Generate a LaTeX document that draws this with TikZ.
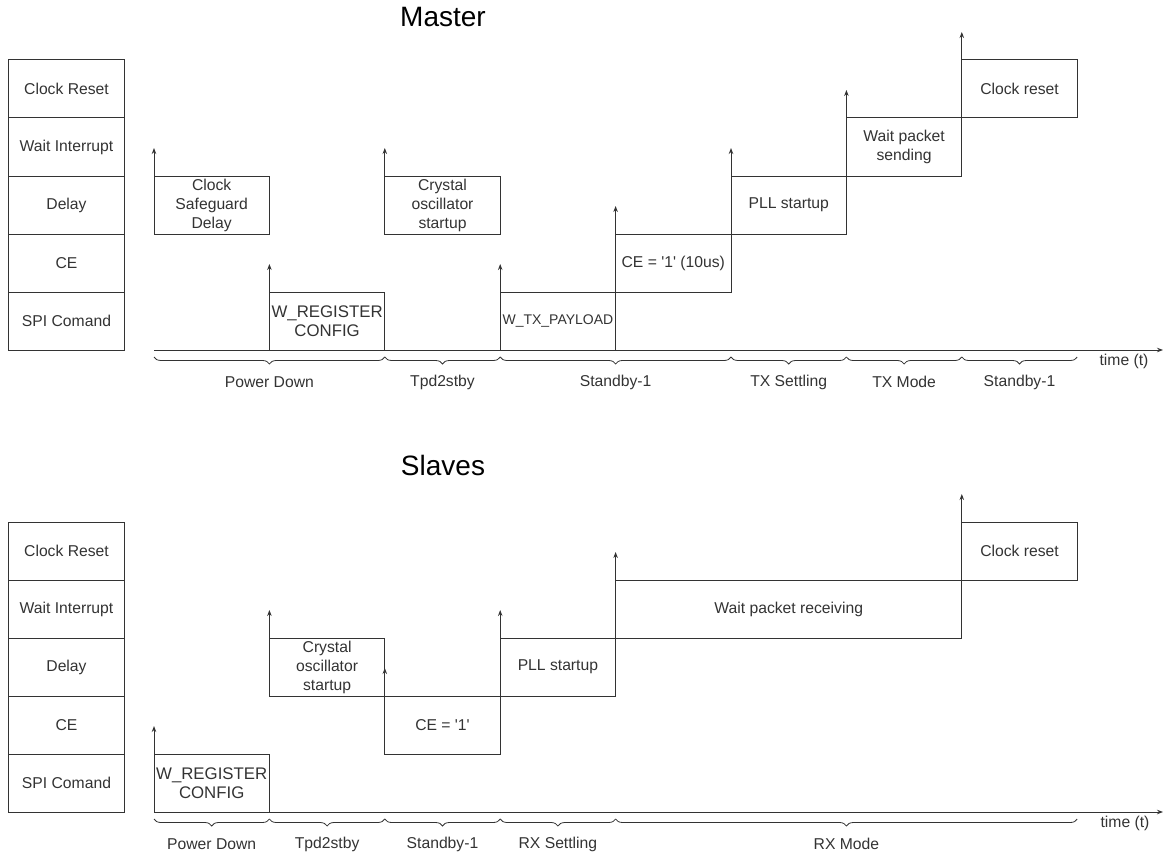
\documentclass[tikz,border=0pt]{standalone}
\usepackage{fontspec}
\setmainfont{Liberation Sans}
\usetikzlibrary{positioning,arrows.meta,decorations.pathreplacing}
\definecolor{inkgray}{HTML}{333333}
\newcommand{\sq}{\textquotesingle}

\begin{document}
\begin{tikzpicture}[
  x=1pt, y=-1pt,
  font=\fontsize{15.7}{19}\selectfont, text=inkgray,
  >={Stealth[length=6pt,width=4.5pt]},
  every node/.style={inner sep=2pt},
  lane/.style={draw=inkgray, line width=1pt, outer sep=0pt, inner xsep=0.5pt,
    minimum width=115.4pt, minimum height=58pt, align=center},
  task/.style={lane, anchor=south west},
  wide/.style={task, minimum width=346.2pt},
  trig/.style={->, draw=inkgray, line width=1pt},
  axis/.style={->, draw=inkgray, line width=1pt},
  phase/.style={decorate, decoration={brace, mirror, amplitude=7pt}, draw=inkgray, line width=0.8pt},
  phlabel/.style={midway, yshift=-25pt},
  title/.style={font=\fontsize{28}{32}\selectfont, text=black}
]
  \useasboundingbox (0,0) rectangle (1164,856);

  % Master
  \node[title] (mtitle) at (443,17) {Master};
  \node[lane] (mlclk) at (66.5,89)  {Clock Reset};
  \node[lane] (mlwait) at (66.5,147) {Wait Interrupt};
  \node[lane] (mldly) at (66.5,205) {Delay};
  \node[lane] (mlce) at (66.5,263)  {CE};
  \node[lane] (mlspi) at (66.5,321) {SPI Comand};

  \node[task] (mcsd) at (154,234)    {Clock\\Safeguard\\Delay};
  \node[task, font=\fontsize{16.8}{19}\selectfont] (mwreg) at (269.4,350) {W\_REGISTER\\CONFIG};
  \node[task] (mxtal) at (384.8,234) {Crystal\\oscillator\\startup};
  \node[task, font=\fontsize{14}{17}\selectfont] (mwtx) at (500.2,350) {W\_TX\_PAYLOAD};
  \node[task] (mce) at (615.6,292)   {CE = \sq1\sq{} (10us)};
  \node[task] (mpll) at (731,234)    {PLL startup};
  \node[task] (mwait) at (846.4,176) {Wait packet\\sending};
  \node[task] (mrst) at (961.8,118)  {Clock reset};

  \draw[trig] (mcsd.south west)  -- ([yshift=28pt]mcsd.north west);
  \draw[trig] (mwreg.south west) -- ([yshift=28pt]mwreg.north west);
  \draw[trig] (mxtal.south west) -- ([yshift=28pt]mxtal.north west);
  \draw[trig] (mwtx.south west)  -- ([yshift=28pt]mwtx.north west);
  \draw[trig] (mce.south west)   -- ([yshift=28pt]mce.north west);
  \draw[trig] (mpll.south west)  -- ([yshift=28pt]mpll.north west);
  \draw[trig] (mwait.south west) -- ([yshift=28pt]mwait.north west);
  \draw[trig] (mrst.south west)  -- ([yshift=28pt]mrst.north west);

  \coordinate (m0) at (154,350);
  \coordinate (mend) at (1163,350);
  \draw[axis] (m0) -- (mend);
  \node (mtime) at (1124,361) {time (t)};

  \draw[phase] (154,357)    -- node[phlabel] (mph1) {Power Down}  (384.8,357);
  \draw[phase] (384.8,357)  -- node[phlabel] (mph2) {Tpd2stby}    (500.2,357);
  \draw[phase] (500.2,357)  -- node[phlabel] (mph3) {Standby-1}   (731,357);
  \draw[phase] (731,357)    -- node[phlabel] (mph4) {TX Settling} (846.4,357);
  \draw[phase] (846.4,357)  -- node[phlabel] (mph5) {TX Mode}     (961.8,357);
  \draw[phase] (961.8,357)  -- node[phlabel] (mph6) {Standby-1}   (1077.2,357);

  % Slaves
  \node[title] (stitle) at (443,465) {Slaves};
  \node[lane] (slclk) at (66.5,551)  {Clock Reset};
  \node[lane] (slwait) at (66.5,609) {Wait Interrupt};
  \node[lane] (sldly) at (66.5,667)  {Delay};
  \node[lane] (slce) at (66.5,725)   {CE};
  \node[lane] (slspi) at (66.5,783)  {SPI Comand};

  \node[task, font=\fontsize{16.8}{19}\selectfont] (swreg) at (154,812) {W\_REGISTER\\CONFIG};
  \node[task] (sxtal) at (269.4,696) {Crystal\\oscillator\\startup};
  \node[task] (sce) at (384.8,754)   {CE = \sq1\sq};
  \node[task] (spll) at (500.2,696)  {PLL startup};
  \node[wide] (swait) at (615.6,638) {Wait packet receiving};
  \node[task] (srst) at (961.8,580)  {Clock reset};

  \draw[trig] (swreg.south west) -- ([yshift=28pt]swreg.north west);
  \draw[trig] (sxtal.south west) -- ([yshift=28pt]sxtal.north west);
  \draw[trig] (sce.south west)   -- ([yshift=28pt]sce.north west);
  \draw[trig] (spll.south west)  -- ([yshift=28pt]spll.north west);
  \draw[trig] (swait.south west) -- ([yshift=28pt]swait.north west);
  \draw[trig] (srst.south west)  -- ([yshift=28pt]srst.north west);

  \coordinate (s0) at (154,812);
  \coordinate (send) at (1163,812);
  \draw[axis] (s0) -- (send);
  \node (stime) at (1125,823) {time (t)};

  \draw[phase] (154,819)    -- node[phlabel] (sph1) {Power Down}  (269.4,819);
  \draw[phase] (269.4,819)  -- node[phlabel] (sph2) {Tpd2stby}    (384.8,819);
  \draw[phase] (384.8,819)  -- node[phlabel] (sph3) {Standby-1}   (500.2,819);
  \draw[phase] (500.2,819)  -- node[phlabel] (sph4) {RX Settling} (615.6,819);
  \draw[phase] (615.6,819)  -- node[phlabel] (sph5) {RX Mode}     (1077.2,819);
\end{tikzpicture}
\end{document}
